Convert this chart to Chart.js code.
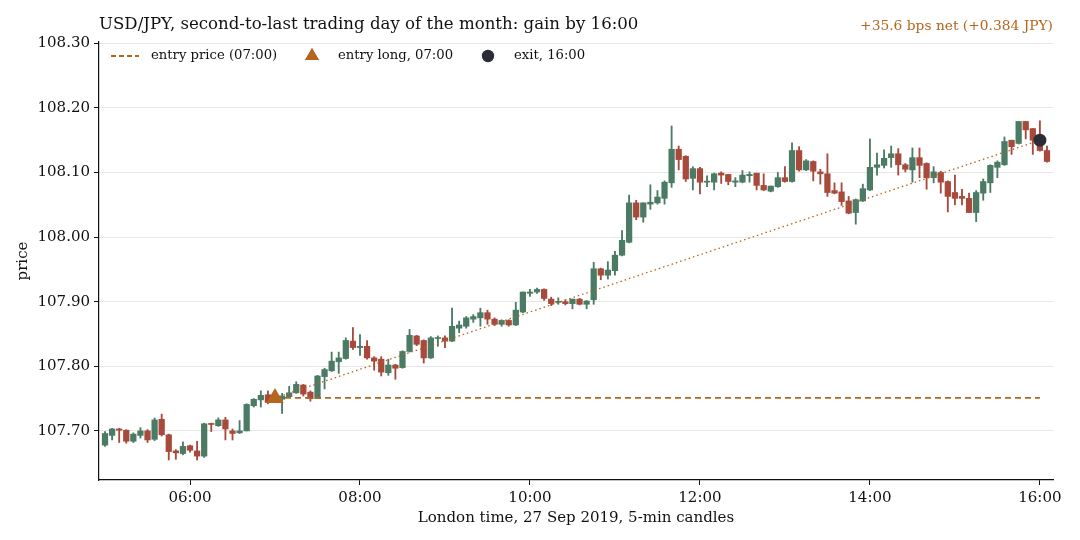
<!DOCTYPE html>
<html>
<head>
<meta charset="utf-8">
<script src="https://cdn.jsdelivr.net/npm/chart.js@4.4.1/dist/chart.umd.min.js"></script>
<style>
  html, body { margin: 0; padding: 0; background: #fff; }
  #wrap { width: 1080px; height: 540px; }
</style>
</head>
<body>
<div id="wrap"><canvas id="chart" width="1080" height="540"></canvas></div>
<script>
// 5-min candles, 27 Sep 2019, first candle 05:00 (minutes after 05:00 = index * 5)
const openP = [
  107.678, 107.693, 107.703, 107.701, 107.684, 107.693, 107.700, 107.687, 107.718, 107.694,
  107.669, 107.665, 107.677, 107.669, 107.661, 107.711, 107.708, 107.717, 107.700, 107.697,
  107.700, 107.739, 107.748, 107.756, 107.751, 107.749, 107.753, 107.759, 107.771, 107.760,
  107.750, 107.784, 107.793, 107.807, 107.812, 107.839, 107.829, 107.831, 107.813, 107.811,
  107.790, 107.802, 107.798, 107.823, 107.847, 107.840, 107.813, 107.843, 107.844, 107.839,
  107.859, 107.862, 107.873, 107.875, 107.883, 107.873, 107.865, 107.871, 107.864, 107.884,
  107.913, 107.915, 107.919, 107.904, 107.899, 107.900, 107.897, 107.904, 107.896, 107.903,
  107.951, 107.941, 107.948, 107.972, 107.992, 108.053, 108.031, 108.051, 108.053, 108.060,
  108.084, 108.136, 108.125, 108.091, 108.106, 108.085, 108.085, 108.099, 108.097, 108.085,
  108.085, 108.095, 108.099, 108.080, 108.071, 108.078, 108.092, 108.086, 108.134, 108.104,
  108.117, 108.101, 108.098, 108.072, 108.070, 108.056, 108.038, 108.056, 108.073, 108.108,
  108.111, 108.123, 108.129, 108.112, 108.104, 108.123, 108.114, 108.092, 108.100, 108.086,
  108.069, 108.063, 108.060, 108.038, 108.068, 108.084, 108.108, 108.112, 108.150, 108.145,
  108.179, 108.168, 108.144, 108.134
];
const highP = [
  107.699, 107.704, 107.704, 107.702, 107.697, 107.705, 107.702, 107.720, 107.726, 107.695,
  107.671, 107.683, 107.678, 107.684, 107.712, 107.712, 107.720, 107.721, 107.703, 107.716,
  107.742, 107.750, 107.762, 107.762, 107.757, 107.758, 107.769, 107.776, 107.772, 107.762,
  107.786, 107.797, 107.822, 107.822, 107.844, 107.860, 107.849, 107.840, 107.815, 107.815,
  107.811, 107.803, 107.824, 107.857, 107.848, 107.841, 107.846, 107.847, 107.847, 107.890,
  107.870, 107.877, 107.880, 107.890, 107.887, 107.875, 107.872, 107.872, 107.899, 107.915,
  107.919, 107.921, 107.920, 107.907, 107.906, 107.903, 107.904, 107.905, 107.902, 107.961,
  107.952, 107.962, 107.978, 108.010, 108.065, 108.057, 108.053, 108.081, 108.072, 108.087,
  108.172, 108.141, 108.126, 108.109, 108.108, 108.095, 108.099, 108.101, 108.097, 108.092,
  108.103, 108.101, 108.099, 108.098, 108.079, 108.100, 108.109, 108.146, 108.140, 108.120,
  108.118, 108.105, 108.129, 108.084, 108.084, 108.063, 108.059, 108.082, 108.152, 108.130,
  108.135, 108.141, 108.137, 108.114, 108.138, 108.138, 108.115, 108.109, 108.102, 108.087,
  108.096, 108.074, 108.068, 108.072, 108.090, 108.112, 108.118, 108.155, 108.150, 108.179,
  108.179, 108.168, 108.180, 108.141
];
const lowP = [
  107.676, 107.686, 107.682, 107.681, 107.682, 107.689, 107.682, 107.685, 107.692, 107.655,
  107.656, 107.663, 107.667, 107.655, 107.659, 107.699, 107.707, 107.686, 107.686, 107.696,
  107.700, 107.737, 107.737, 107.742, 107.745, 107.727, 107.752, 107.758, 107.754, 107.746,
  107.750, 107.765, 107.792, 107.789, 107.811, 107.826, 107.817, 107.811, 107.794, 107.785,
  107.786, 107.780, 107.797, 107.822, 107.832, 107.805, 107.812, 107.831, 107.829, 107.838,
  107.852, 107.859, 107.868, 107.862, 107.865, 107.863, 107.862, 107.862, 107.863, 107.883,
  107.908, 107.913, 107.902, 107.894, 107.896, 107.895, 107.889, 107.895, 107.889, 107.896,
  107.934, 107.935, 107.941, 107.971, 107.991, 108.027, 108.023, 108.043, 108.051, 108.051,
  108.077, 108.104, 108.086, 108.073, 108.067, 108.078, 108.073, 108.083, 108.081, 108.078,
  108.084, 108.085, 108.073, 108.072, 108.070, 108.077, 108.085, 108.085, 108.102, 108.103,
  108.087, 108.082, 108.063, 108.067, 108.049, 108.036, 108.020, 108.055, 108.072, 108.096,
  108.107, 108.108, 108.096, 108.101, 108.085, 108.092, 108.074, 108.084, 108.068, 108.039,
  108.050, 108.050, 108.038, 108.024, 108.057, 108.069, 108.092, 108.111, 108.128, 108.144,
  108.152, 108.128, 108.133, 108.116
];
const closeP = [
  107.696, 107.703, 107.701, 107.684, 107.695, 107.700, 107.686, 107.717, 107.694, 107.668,
  107.666, 107.676, 107.670, 107.661, 107.711, 107.710, 107.717, 107.703, 107.696, 107.700,
  107.741, 107.749, 107.755, 107.744, 107.753, 107.754, 107.759, 107.772, 107.757, 107.750,
  107.785, 107.795, 107.808, 107.813, 107.840, 107.829, 107.831, 107.813, 107.808, 107.791,
  107.802, 107.797, 107.823, 107.848, 107.834, 107.813, 107.844, 107.844, 107.839, 107.862,
  107.864, 107.875, 107.877, 107.883, 107.873, 107.865, 107.871, 107.864, 107.887, 107.915,
  107.915, 107.919, 107.905, 107.897, 107.899, 107.897, 107.904, 107.896, 107.901, 107.951,
  107.941, 107.949, 107.972, 107.995, 108.053, 108.031, 108.053, 108.054, 108.062, 108.085,
  108.136, 108.120, 108.090, 108.106, 108.085, 108.086, 108.098, 108.096, 108.086, 108.087,
  108.096, 108.097, 108.080, 108.073, 108.079, 108.092, 108.086, 108.134, 108.104, 108.118,
  108.102, 108.098, 108.069, 108.068, 108.055, 108.037, 108.058, 108.075, 108.108, 108.112,
  108.122, 108.129, 108.112, 108.105, 108.123, 108.111, 108.092, 108.101, 108.085, 108.063,
  108.060, 108.060, 108.038, 108.069, 108.086, 108.111, 108.116, 108.148, 108.140, 108.179,
  108.166, 108.150, 108.134, 108.117
];

// trade: long at 07:00, exit at 16:00
const entryTime = 120;   // minutes after 05:00
const exitTime = 660;
const entryPrice = 107.751;
const exitPrice = 108.150;

const yTicks = [107.70, 107.80, 107.90, 108.00, 108.10, 108.20, 108.30];
const xTicks = [60, 180, 300, 420, 540, 660];

const UP = '#4b7b64';
const DOWN = '#a84a3b';
const ORANGE = '#b5651d';
const DARK = '#2a2d35';
const FONT = "'DejaVu Serif', 'Liberation Serif', serif";

const minutes = openP.map((_, i) => i * 5);
const colors = openP.map((o, i) => closeP[i] >= o ? UP : DOWN);

function fmtTime(m) {
    const t = 5 * 60 + m;
    const h = Math.floor(t / 60), mm = t % 60;
    return String(h).padStart(2, '0') + ':' + String(mm).padStart(2, '0');
}

// titre, annotation et légende dessinés à la main
const overlay = {
    id: 'overlay',
    afterDraw(chart) {
        const ctx = chart.ctx;
        const area = chart.chartArea;
        ctx.save();
        ctx.textBaseline = 'middle';
        ctx.fillStyle = '#111';
        ctx.font = '16.6px ' + FONT;
        ctx.textAlign = 'left';
        ctx.fillText('USD/JPY, second-to-last trading day of the month: gain by 16:00', area.left, 25);
        ctx.fillStyle = ORANGE;
        ctx.font = '13.8px ' + FONT;
        ctx.textAlign = 'right';
        ctx.fillText('+35.6 bps net (+0.384 JPY)', area.right, 26);

        // légende
        const ly = 56;
        ctx.strokeStyle = ORANGE;
        ctx.lineWidth = 1.8;
        ctx.setLineDash([5, 3]);
        ctx.beginPath();
        ctx.moveTo(111, ly);
        ctx.lineTo(139, ly);
        ctx.stroke();
        ctx.setLineDash([]);
        Chart.helpers.drawPoint(ctx, { pointStyle: 'triangle', radius: 8, borderWidth: 0 }, 312, ly);
        ctx.fillStyle = ORANGE;
        ctx.fill();
        ctx.fillStyle = DARK;
        ctx.beginPath();
        ctx.arc(488, ly, 6.2, 0, Math.PI * 2);
        ctx.fill();
        ctx.fillStyle = '#111';
        ctx.font = '13.2px ' + FONT;
        ctx.textAlign = 'left';
        ctx.fillText('entry price (07:00)', 151, ly);
        ctx.fillText('entry long, 07:00', 338, ly);
        ctx.fillText('exit, 16:00', 514, ly);
        ctx.restore();
    }
};

const config = {
    type: 'bar',
    data: {
        datasets: [
            {
                type: 'scatter',
                label: 'exit, 16:00',
                data: [{ x: exitTime, y: exitPrice }],
                pointStyle: 'circle',
                pointRadius: 6.5,
                backgroundColor: DARK,
                borderColor: DARK,
                borderWidth: 0,
                order: 0
            },
            {
                type: 'scatter',
                label: 'entry long, 07:00',
                data: [{ x: entryTime, y: entryPrice }],
                pointStyle: 'triangle',
                pointRadius: 10,
                backgroundColor: ORANGE,
                borderColor: ORANGE,
                borderWidth: 0,
                order: 0
            },
            {
                type: 'line',
                label: 'entry price (07:00)',
                data: [{ x: entryTime, y: entryPrice }, { x: exitTime, y: entryPrice }],
                borderColor: ORANGE,
                borderWidth: 1.8,
                borderDash: [6, 4],
                pointRadius: 0,
                order: 1
            },
            {
                type: 'line',
                label: 'path',
                data: [{ x: entryTime, y: entryPrice }, { x: exitTime, y: exitPrice }],
                borderColor: ORANGE,
                borderWidth: 1.3,
                borderDash: [1.5, 3],
                pointRadius: 0,
                order: 1
            },
            {
                label: 'body',
                data: minutes.map((m, i) => ({ x: m, y: [openP[i], closeP[i]] })),
                backgroundColor: colors,
                borderWidth: 0,
                barThickness: 5.6,
                minBarLength: 1,
                grouped: false,
                order: 2
            },
            {
                label: 'wick',
                data: minutes.map((m, i) => ({ x: m, y: [lowP[i], highP[i]] })),
                backgroundColor: colors,
                borderWidth: 0,
                barThickness: 1.2,
                grouped: false,
                order: 3
            }
        ]
    },
    options: {
        responsive: false,
        animation: false,
        layout: { padding: { top: 42, right: 27, left: 0, bottom: 0 } },
        plugins: {
            legend: { display: false },
            tooltip: { enabled: false },
            title: { display: false }
        },
        scales: {
            x: {
                type: 'linear',
                min: -4.25,
                max: 669.25,
                offset: false,
                afterFit: s => { s.height = 60; },
                afterBuildTicks: s => { s.ticks = xTicks.map(v => ({ value: v })); },
                grid: { offset: false, drawOnChartArea: false, drawTicks: true, tickLength: 5, tickColor: '#111' },
                border: { display: true, color: '#111', width: 1.2 },
                ticks: {
                    color: '#111',
                    font: { family: FONT, size: 15 },
                    padding: 4,
                    maxRotation: 0,
                    callback: v => fmtTime(v)
                },
                title: {
                    display: true,
                    text: 'London time, 27 Sep 2019, 5-min candles',
                    color: '#111',
                    font: { family: FONT, size: 15 },
                    padding: { top: 0, bottom: 13 }
                }
            },
            y: {
                min: 107.624,
                max: 108.302,
                afterFit: s => { s.width = 99; },
                afterBuildTicks: s => { s.ticks = yTicks.map(v => ({ value: v })); },
                grid: { color: '#e6e6e6', lineWidth: 1, drawTicks: true, tickLength: 5, tickColor: '#111' },
                border: { display: true, color: '#111', width: 1.2 },
                ticks: {
                    color: '#111',
                    font: { family: FONT, size: 15 },
                    padding: 4,
                    callback: v => v.toFixed(2)
                },
                title: {
                    display: true,
                    text: 'price',
                    color: '#111',
                    font: { family: FONT, size: 15 },
                    padding: { top: 14, bottom: 14 }
                }
            }
        }
    },
    plugins: [overlay]
};

new Chart(document.getElementById('chart'), config);
</script>
</body>
</html>
